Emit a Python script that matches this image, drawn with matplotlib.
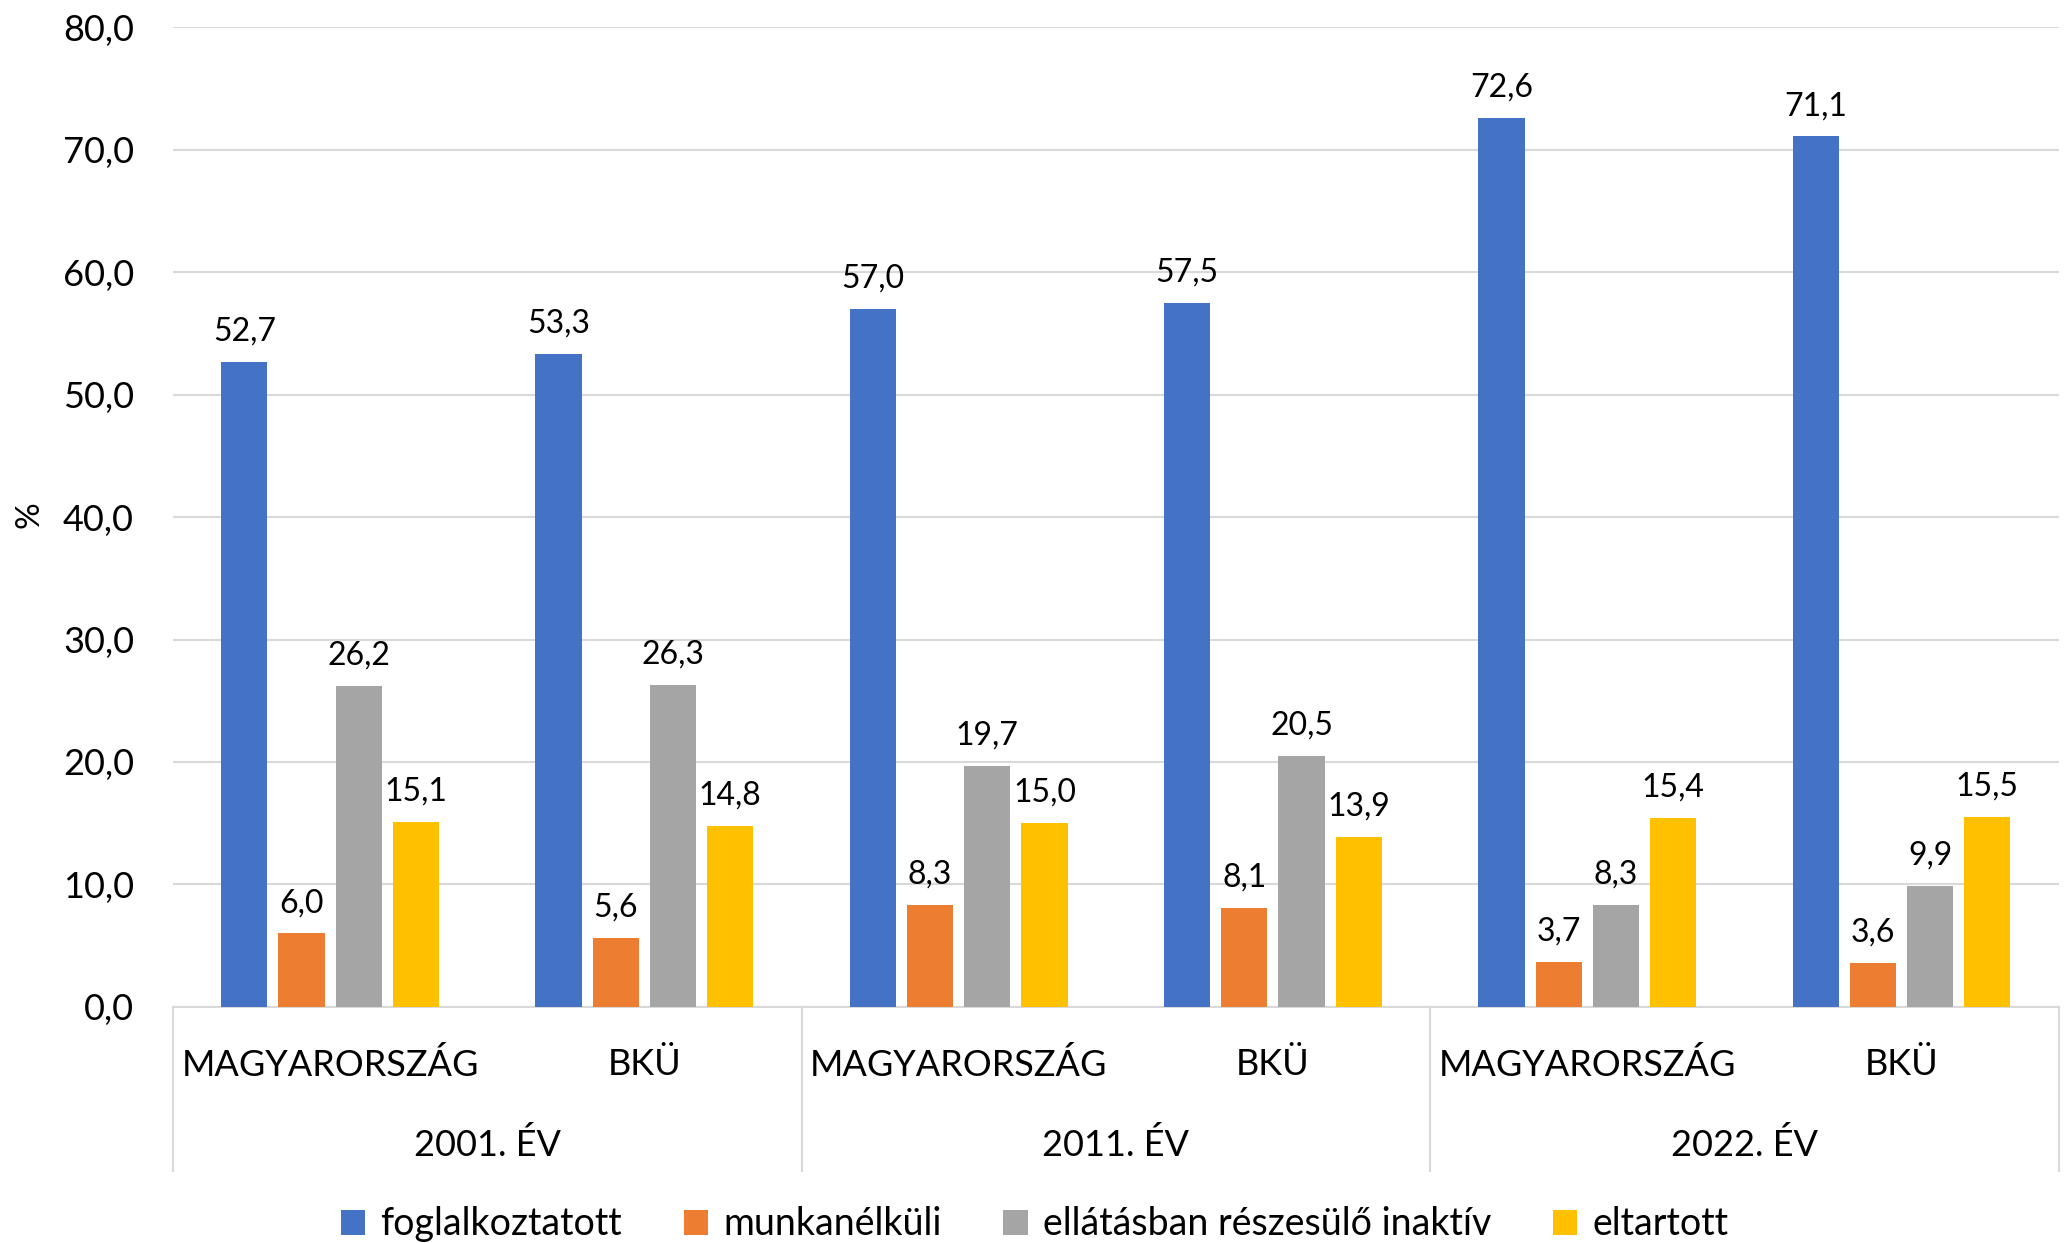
import numpy as np
import matplotlib.pyplot as plt
from matplotlib.transforms import blended_transform_factory

plt.rcParams.update(
    {
        "font.family": ["Lato", "DejaVu Sans"],
        "font.size": 26,
    }
)

years = ["2001. ÉV", "2011. ÉV", "2022. ÉV"]
regions = ["MAGYARORSZÁG", "BKÜ"]
series = ["foglalkoztatott", "munkanélküli", "ellátásban részesülő inaktív", "eltartott"]
colors = ["#4472C4", "#ED7D31", "#A5A5A5", "#FFC000"]

# one value per (year, region) in order: 2001 M, 2001 B, 2011 M, 2011 B, 2022 M, 2022 B
foglalkoztatott = [52.7, 53.3, 57.0, 57.5, 72.6, 71.1]
munkanelkuli = [6.0, 5.6, 8.3, 8.1, 3.7, 3.6]
inaktiv = [26.2, 26.3, 19.7, 20.5, 8.3, 9.9]
eltartott = [15.1, 14.8, 15.0, 13.9, 15.4, 15.5]
values = [foglalkoztatott, munkanelkuli, inaktiv, eltartott]

fig = plt.figure(figsize=(20.69, 12.43), dpi=100)
ax = fig.add_axes([0.0836, 0.190, 0.9114, 0.788])

x = np.arange(len(foglalkoztatott))
width = 0.147
step = 0.182
for i, (name, vals, c) in enumerate(zip(series, values, colors)):
    pos = x + (i - 1.5) * step
    bars = ax.bar(pos, vals, width, color=c, label=name, zorder=3)
    for b, v in zip(bars, vals):
        ax.annotate(
            f"{v:.1f}".replace(".", ","),
            (b.get_x() + b.get_width() / 2, v),
            xytext=(0, 11),
            textcoords="offset points",
            ha="center",
            va="bottom",
            fontsize=23,
        )

ax.set_ylim(0, 80)
ax.set_xlim(-0.5, len(x) - 0.5)
ax.set_yticks(np.arange(0, 81, 10))
ax.set_yticklabels([f"{t:.1f}".replace(".", ",") for t in np.arange(0, 81, 10)])
ax.tick_params(axis="y", length=0, pad=28, labelsize=26)
ax.set_xticks([])
ax.grid(axis="y", color="#d9d9d9", linewidth=1.5, zorder=0)
for s in ["top", "right", "left"]:
    ax.spines[s].set_visible(False)
ax.spines["bottom"].set_color("#d9d9d9")
ax.spines["bottom"].set_linewidth(1.5)

fig.text(29 / 2069, 1 - 515 / 1243, "%", rotation=90, ha="center", va="center", fontsize=24)

# two level category axis
trans = blended_transform_factory(ax.transData, ax.transAxes)
for k in range(len(x)):
    ax.text(k, -0.059, regions[k % 2], transform=trans, ha="center", va="center", fontsize=26)
for j, yr in enumerate(years):
    ax.text(2 * j + 0.5, -0.141, yr, transform=trans, ha="center", va="center", fontsize=26)
for sx in [-0.5, 1.5, 3.5, 5.5]:
    ax.plot([sx, sx], [0, -0.168], transform=trans, color="#d9d9d9", linewidth=1.5, clip_on=False)

fig.legend(
    loc="center",
    bbox_to_anchor=(0.5, 0.015),
    ncol=4,
    frameon=False,
    fontsize=27,
    handlelength=0.65,
    handleheight=0.65,
    handletextpad=0.4,
    columnspacing=1.65,
)

plt.savefig("out.png")
